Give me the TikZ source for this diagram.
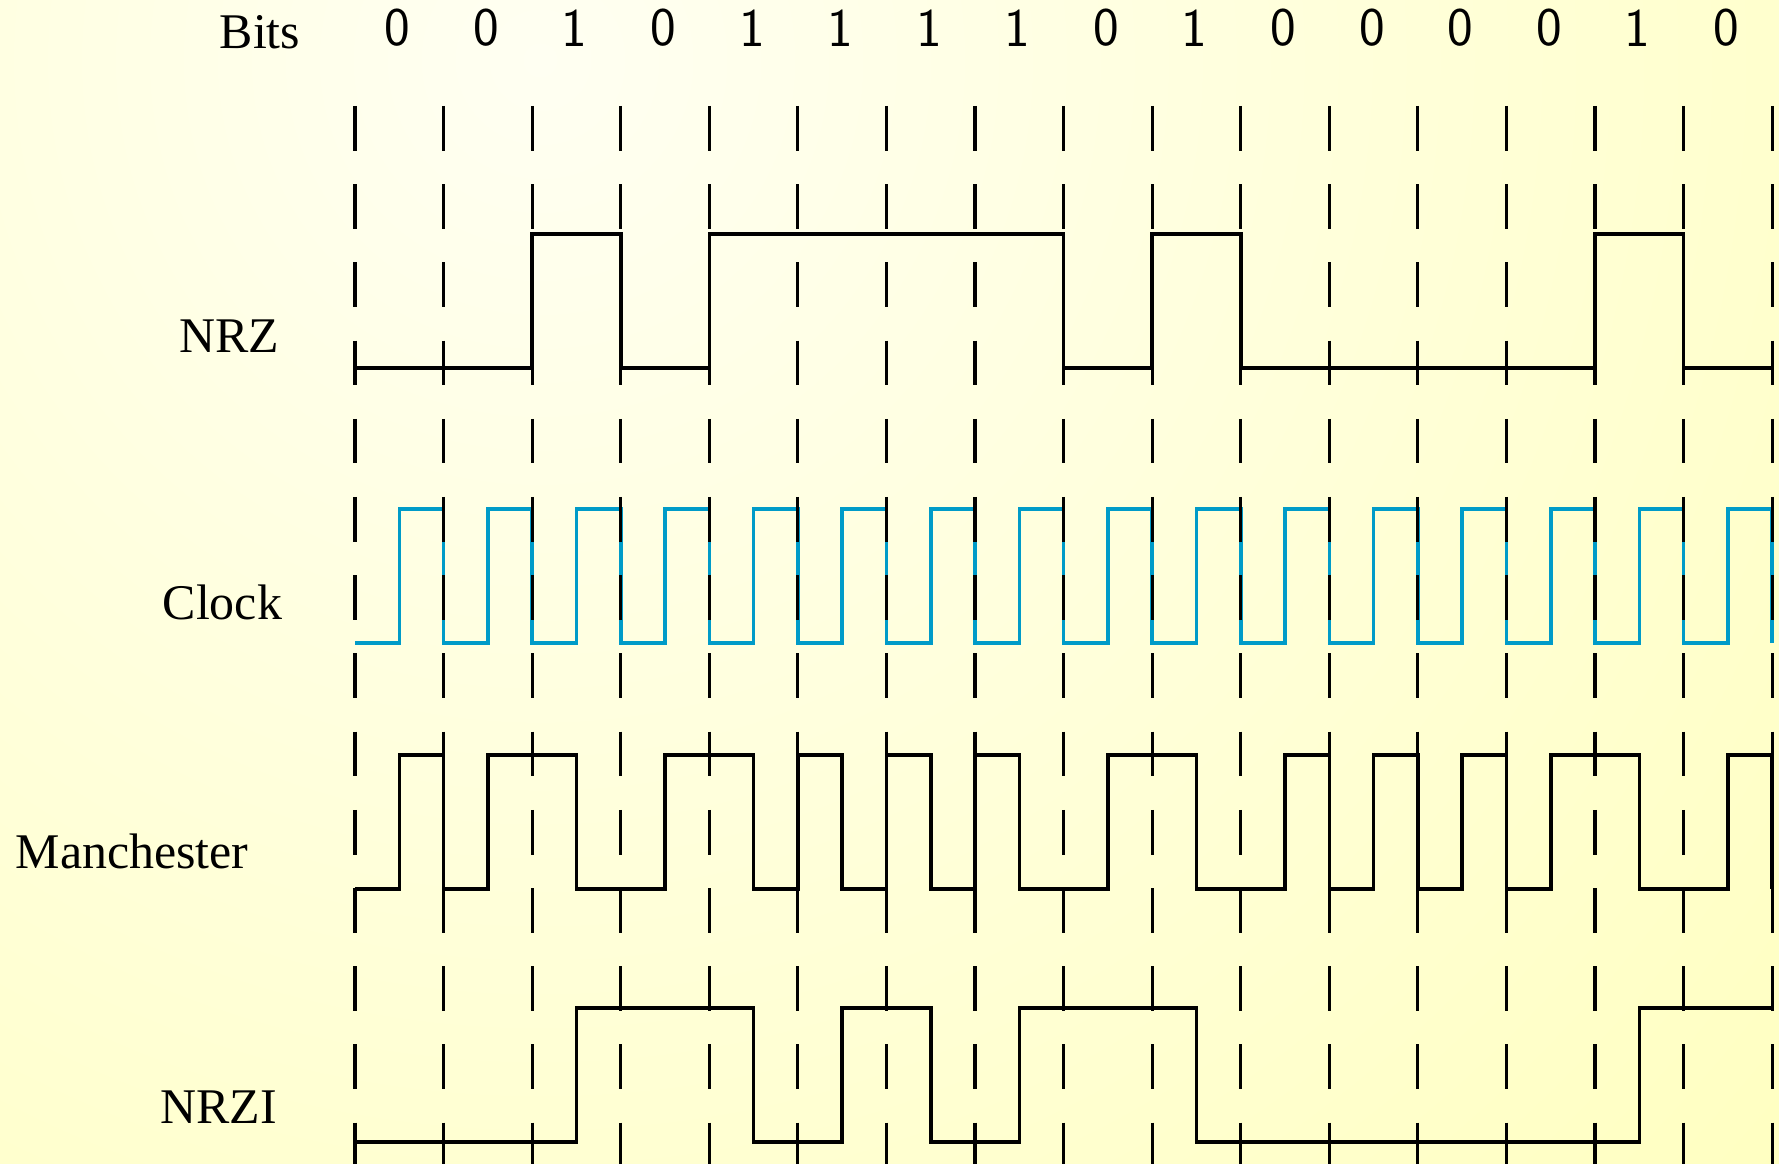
\documentclass[tikz,border=0pt]{standalone}
\usepackage{fontspec}
\setmainfont{Liberation Serif}
\definecolor{clockblue}{RGB}{0,155,200}
\definecolor{bgcenter}{RGB}{255,255,242}
\definecolor{bgedge}{RGB}{255,255,136}
\tikzset{wave/.style={line width=1pt}, % black signal lines
clockwave/.style={line width=1pt, draw=clockblue}, % the clock line in blue
gridline/.style={line width=0.9pt, dash pattern=on 0.447cm off 0.335cm}, % bit boundaries
rowname/.style={font=\fontsize{14.2pt}{17pt}\selectfont}, % names of the rows on the left
bitval/.style={font=\sffamily\fontsize{15.5pt}{18pt}\selectfont}, % bit values along the top
}

\begin{document}
\begin{tikzpicture}[x=0.8857cm]
  \useasboundingbox (-4.009,0) rectangle (16.077,-11.64);
  \begin{scope}
    \clip (-4.009,0) rectangle (16.077,-11.64);
    \shade[inner color=bgcenter, outer color=bgedge] (2.088,-0.6) ++(-36cm,-36cm) rectangle ++(72cm,72cm);
  \end{scope}

  \node[rowname] (lbits) at (-1.074,-0.32) {Bits};
  \foreach \b [count=\i from 0] in {0,0,1,0,1,1,1,1,0,1,0,0,0,0,1,0}
    \node[bitval] (b\i) at (\i+0.48,-0.28) {\b};
  \node[rowname] (lnrz) at (-1.421,-3.364) {NRZ};
  \node[rowname] (lclock) at (-1.498,-6.025) {Clock};
  \node[rowname] (lmanch) at (-2.517,-8.515) {Manchester};
  \node[rowname] (lnrzi) at (-1.543,-11.074) {NRZI};

  \draw[wave] (0,-3.68) \foreach \b [count=\i from 0] in {0,0,1,0,1,1,1,1,0,1,0,0,0,0,1,0}
    { -- (\i,{-3.68+\b*1.34}) -- (\i+1,{-3.68+\b*1.34}) };
  \draw[clockwave] (0,-6.43) \foreach \i in {0,...,15}
    { -- (\i+0.5,-6.43) -- (\i+0.5,-5.09) -- (\i+1,-5.09) -- (\i+1,-6.43) };
  \draw[wave] (0,-8.89) \foreach \b [count=\i from 0] in {0,0,1,0,1,1,1,1,0,1,0,0,0,0,1,0}
    { -- (\i,{-8.89+\b*1.34}) -- (\i+0.5,{-8.89+\b*1.34}) -- (\i+0.5,{-7.55-\b*1.34}) -- (\i+1,{-7.55-\b*1.34}) } -- (16,-8.89);
  \draw[wave] (0,-11.42) -- (2.5,-11.42) -- (2.5,-10.08) -- (4.5,-10.08) -- (4.5,-11.42) -- (5.5,-11.42)
    -- (5.5,-10.08) -- (6.5,-10.08) -- (6.5,-11.42) -- (7.5,-11.42) -- (7.5,-10.08) -- (9.5,-10.08)
    -- (9.5,-11.42) -- (14.5,-11.42) -- (14.5,-10.08) -- (16,-10.08);

  \foreach \i in {0,...,16}
    \draw[gridline] (\i,-1.06) -- (\i,-11.64);
\end{tikzpicture}
\end{document}
